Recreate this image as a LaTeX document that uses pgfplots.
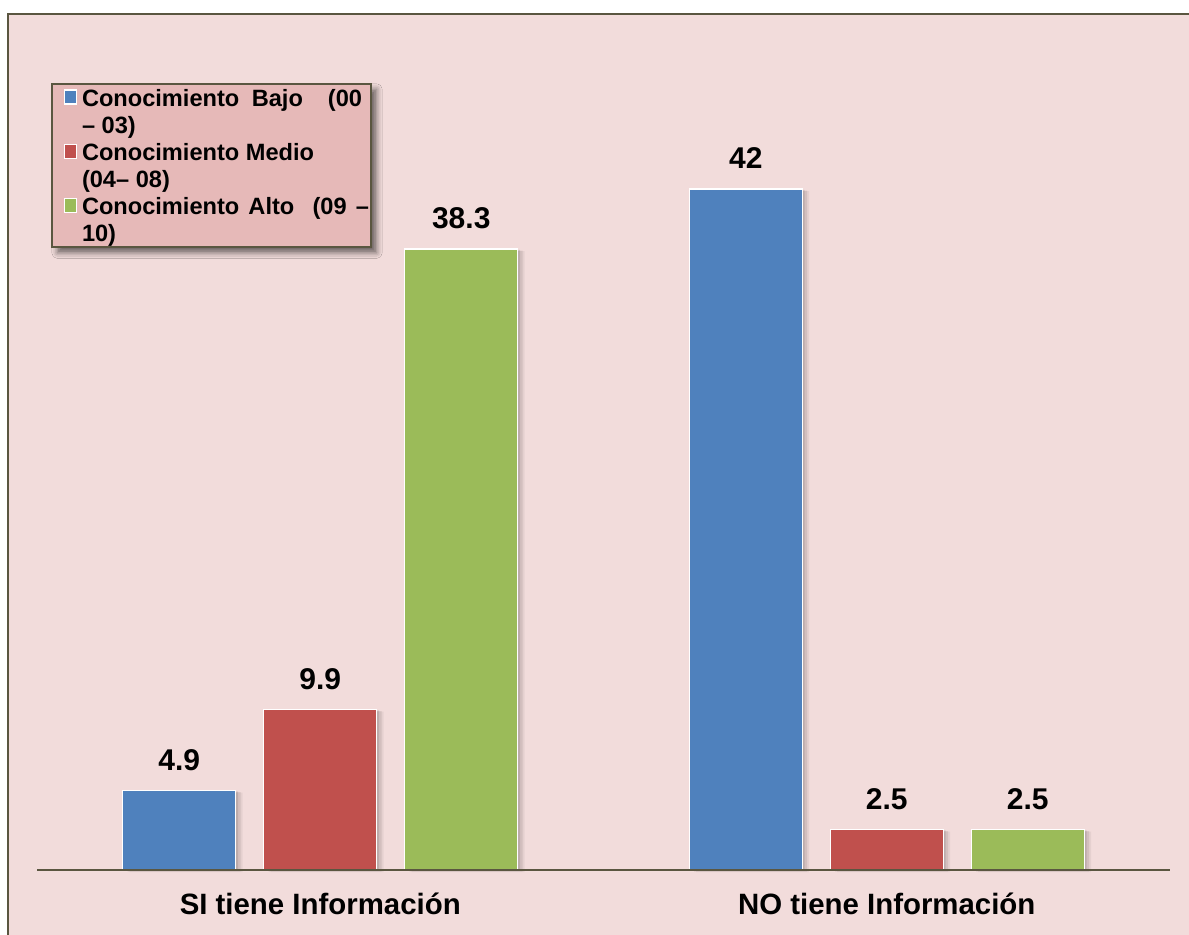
\documentclass[border=0pt]{standalone}
\usepackage{pgfplots}
\pgfplotsset{compat=1.18}
\usepackage{fontspec}
\setmainfont{Liberation Sans}
\usetikzlibrary{shadows.blur}

\definecolor{bgpink}{HTML}{F2DCDB}
\definecolor{legpink}{HTML}{E6B9B8}
\definecolor{framecol}{HTML}{5A5640}
\definecolor{cblue}{HTML}{4F81BD}
\definecolor{cred}{HTML}{C0504D}
\definecolor{cgreen}{HTML}{9BBB59}

\makeatletter
\tikzset{no preactions/.code={\let\tikz@preactions\pgfutil@empty}}
\makeatother

% soft shadow to the right of each bar
\tikzset{barshadow/.style={
  preaction={fill=black, fill opacity=0.10, draw=none, transform canvas={xshift=1.2pt, yshift=-0.4pt}},
  preaction={fill=black, fill opacity=0.08, draw=none, transform canvas={xshift=2.4pt, yshift=-0.8pt}},
  preaction={fill=black, fill opacity=0.05, draw=none, transform canvas={xshift=3.4pt, yshift=-1.1pt}}}}

% legend font with struts giving 13.5pt line pitch
\newcommand\legfont{\fontsize{11.8}{13.5}\selectfont\bfseries
  \setbox\strutbox\hbox{\vrule height 11.1pt depth 2.4pt width 0pt}}
% entry text may run into the right padding of the legend box
\newcommand\legentry[2]{\legfont\makebox[138.65pt][l]{\begin{tabular}[t]{@{}l@{}}#1\\#2\end{tabular}}}
\newcommand\legsq[1]{\draw[no preactions,fill=#1,draw=white,line width=0.6pt] (0pt,1.2pt) rectangle (6.15pt,8.2pt);}

\begin{document}
\begin{tikzpicture}
\path[use as bounding box] (-18.5pt,-32.5pt) rectangle (576pt,435pt);
\fill[bgpink] (-14.5pt,-33pt) rectangle (577pt,428pt);
\draw[framecol, line width=1pt] (-14.5pt,-34pt) -- (-14.5pt,428pt) -- (578pt,428pt);
\begin{axis}[
  at={(0pt,0pt)}, anchor=south west,
  scale only axis, width=566.5pt, height=405.35pt,
  xmin=-0.5, xmax=1.5, ymin=0, ymax=50,
  axis on top,
  axis x line*=bottom, axis y line=none,
  axis line style={draw=framecol, line width=1pt},
  xtick={0,1},
  xticklabels={SI tiene Información, NO tiene Información},
  major tick length=0pt, ytick=\empty,
  xticklabel style={font=\fontsize{14.7}{17}\selectfont\bfseries,
    anchor=base, yshift=-22.5pt, inner sep=0pt},
  ybar=14pt, bar width=56.5pt,
  nodes near coords,
  every node near coord/.append style={font=\fontsize{15}{17}\selectfont\bfseries,
    anchor=base, yshift=10pt, inner sep=0pt, text=black},
  /pgf/number format/assume math mode=true,
  clip=false,
  legend style={at={(axis description cs:0.01236,0.9708)}, anchor=north west,
    fill=legpink, draw=framecol, line width=0.8pt,
    inner xsep=5.85pt, inner ysep=0.25pt, row sep=0pt, column sep=2.5pt,
    cells={anchor=base west}, nodes={inner sep=0pt, text depth={}, no preactions},
    blur shadow={shadow xshift=2.8pt, shadow yshift=-2.8pt, shadow blur radius=2.8pt, shadow opacity=55}},
]
\addplot[fill=cblue, draw=white, line width=0.7pt, barshadow,
  legend image code/.code={\legsq{cblue}}]
  coordinates {(0,4.9) (1,42)};
\addplot[fill=cred, draw=white, line width=0.7pt, barshadow,
  legend image code/.code={\legsq{cred}}]
  coordinates {(0,9.9) (1,2.5)};
\addplot[fill=cgreen, draw=white, line width=0.7pt, barshadow,
  legend image code/.code={\legsq{cgreen}}]
  coordinates {(0,38.3) (1,2.5)};
\addlegendentry{\legentry{\makebox[140pt][s]{Conocimiento Bajo\ \ (00}}{– 03)}}
\addlegendentry{\legentry{Conocimiento Medio}{(04– 08)}}
\addlegendentry{\legentry{\makebox[143.5pt][s]{Conocimiento Alto\ \ (09 –}}{10)}}
\end{axis}
\end{tikzpicture}
\end{document}
